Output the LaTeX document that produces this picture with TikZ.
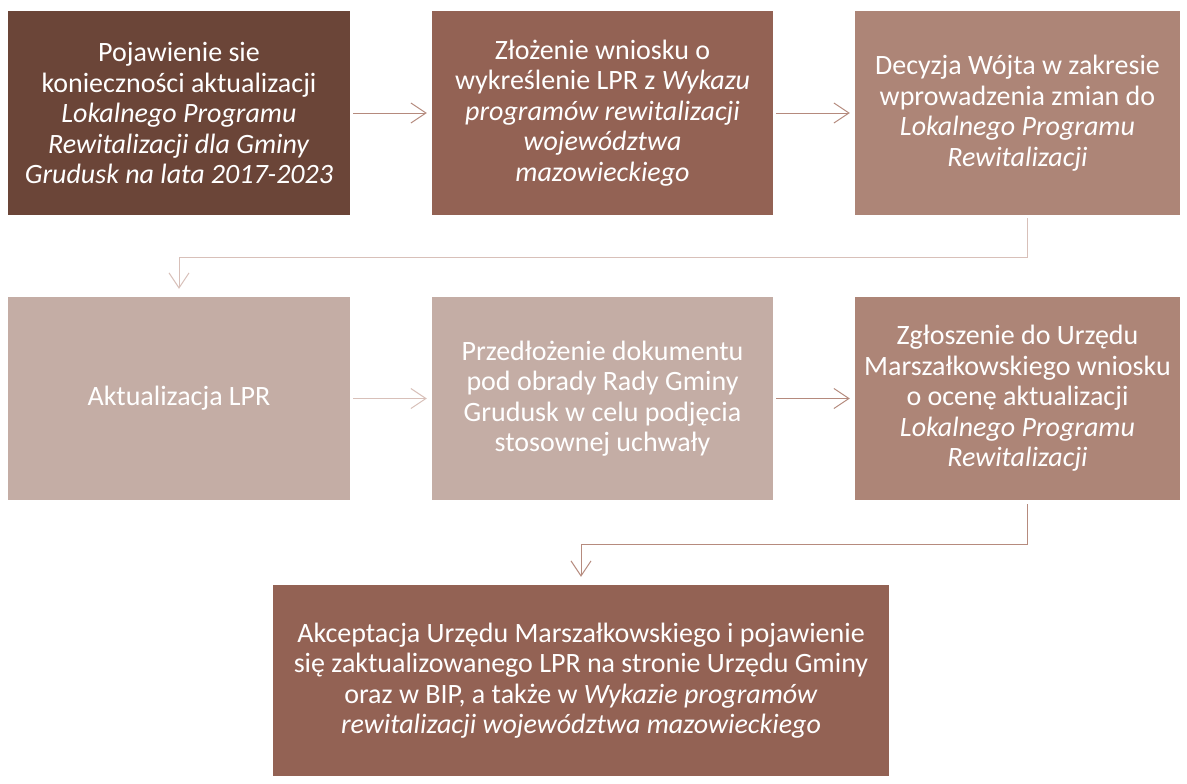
\documentclass[tikz,border=0pt]{standalone}
\usepackage{fontspec}
\setmainfont{Carlito}
\usetikzlibrary{arrows.meta}
\definecolor{cA}{HTML}{6B4538}
\definecolor{cB}{HTML}{936254}
\definecolor{cC}{HTML}{AD8577}
\definecolor{cD}{HTML}{C4ADA5}
\definecolor{aA}{HTML}{B58A7D}
\definecolor{aB}{HTML}{D8C0B9}
\definecolor{aC}{HTML}{B68B7E}
\tikzset{
  box/.style={rectangle, inner sep=0pt, text=white, align=center,
    font=\fontsize{28}{30.5}\selectfont},
  conn/.style={line width=1pt, -{Straight Barb[length=15pt,width=20pt,line width=1pt]}},
}
\begin{document}
\begin{tikzpicture}[x=1pt,y=-1pt]
\useasboundingbox[fill=white] (0,0) rectangle (1187,784);
\node[box, fill=cA, minimum width=342pt, minimum height=204pt] (b1) at (179,113)
  {Pojawienie sie\\konieczności aktualizacji\\\textit{Lokalnego Programu}\\\textit{Rewitalizacji dla Gminy}\\\textit{Grudusk na lata 2017-2023}};
\node[box, fill=cB, minimum width=341pt, minimum height=204pt] (b2) at (602.5,113)
  {Złożenie wniosku o\\wykreślenie LPR z \textit{Wykazu}\\\textit{programów rewitalizacji}\\\textit{województwa}\\\textit{mazowieckiego}};
\node[box, fill=cC, minimum width=325pt, minimum height=204pt] (b3) at (1017.5,113)
  {Decyzja Wójta w zakresie\\wprowadzenia zmian do\\\textit{Lokalnego Programu}\\\textit{Rewitalizacji}};
\node[box, fill=cD, minimum width=342pt, minimum height=203pt] (b4) at (179,398.5)
  {Aktualizacja LPR};
\node[box, fill=cD, minimum width=341pt, minimum height=203pt] (b5) at (602.5,398.5)
  {Przedłożenie dokumentu\\pod obrady Rady Gminy\\Grudusk w celu podjęcia\\stosownej uchwały};
\node[box, fill=cC, minimum width=325pt, minimum height=203pt] (b6) at (1017.5,398.5)
  {Zgłoszenie do Urzędu\\Marszałkowskiego wniosku\\o ocenę aktualizacji\\\textit{Lokalnego Programu}\\\textit{Rewitalizacji}};
\node[box, fill=cB, minimum width=616pt, minimum height=191pt] (b7) at (581,680.5)
  {Akceptacja Urzędu Marszałkowskiego i pojawienie\\się zaktualizowanego LPR na stronie Urzędu Gminy\\oraz w BIP, a także w \textit{Wykazie programów}\\\textit{rewitalizacji województwa mazowieckiego}};
% connectors
\draw[conn, aA] ([xshift=3pt]b1.east) -- ([xshift=-5pt]b2.west);
\draw[conn, aA] ([xshift=3pt]b2.east) -- ([xshift=-5pt]b3.west);
\draw[conn, aB] ([xshift=3pt]b4.east) -- ([xshift=-5pt]b5.west);
\draw[conn, aA] ([xshift=3pt]b5.east) -- ([xshift=-5pt]b6.west);
\coordinate (s1) at ([xshift=10pt,yshift=-3pt]b3.south);
\coordinate (t1) at ([yshift=8pt]b4.north);
\draw[conn, aB] (s1) |- (t1 |- 0,257) -- (t1);
\coordinate (s2) at ([xshift=10pt,yshift=-4pt]b6.south);
\coordinate (t2) at ([yshift=8pt]b7.north);
\draw[conn, aC] (s2) |- (t2 |- 0,544) -- (t2);
\end{tikzpicture}
\end{document}
